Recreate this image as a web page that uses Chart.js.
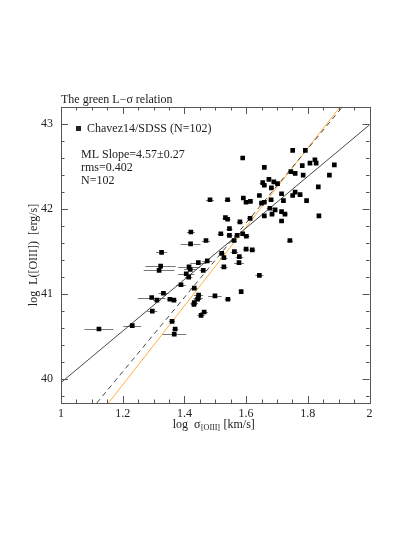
<!DOCTYPE html>
<html>
<head>
<meta charset="utf-8">
<script src="https://cdn.jsdelivr.net/npm/chart.js@4.4.0/dist/chart.umd.min.js"></script>
<style>
  body { margin: 0; background: #fff; }
</style>
</head>
<body>
<canvas id="sigmaChart" width="415" height="537"></canvas>
<script>
// log sigma [OIII] (km/s) of each galaxy
var logSigma = [
  1.589, 1.659, 1.674, 1.654, 1.659, 1.690, 1.702, 1.682, 1.745, 1.715,
  1.483, 1.540, 1.591, 1.600, 1.614, 1.643, 1.650, 1.659, 1.681, 1.677,
  1.694, 1.684, 1.659, 1.715, 1.726, 1.533, 1.540, 1.613, 1.751, 1.792,
  1.823, 1.827, 1.807, 1.886, 1.782, 1.759, 1.785, 1.870, 1.834, 1.759,
  1.751, 1.775, 1.721, 1.796, 1.836, 1.715, 1.742, 1.580, 1.546, 1.518,
  1.546, 1.571, 1.589, 1.601, 1.470, 1.561, 1.600, 1.620, 1.562, 1.578,
  1.577, 1.521, 1.528, 1.474, 1.461, 1.528, 1.643, 1.421, 1.420, 1.326,
  1.323, 1.318, 1.415, 1.419, 1.445, 1.406, 1.414, 1.389, 1.432, 1.332,
  1.294, 1.311, 1.353, 1.366, 1.446, 1.445, 1.443, 1.432, 1.431, 1.499,
  1.541, 1.584, 1.296, 1.464, 1.454, 1.360, 1.231, 1.123, 1.370, 1.367
];
// log L([OIII]) (erg/s)
var logL = [
  42.60, 42.49, 42.35, 42.31, 42.28, 42.32, 42.30, 42.25, 42.44, 42.18,
  42.11, 42.11, 42.13, 42.08, 42.09, 42.16, 42.07, 42.08, 42.11, 42.01,
  41.99, 41.94, 41.92, 41.97, 41.94, 41.90, 41.88, 41.89, 42.69, 42.69,
  42.58, 42.54, 42.54, 42.52, 42.51, 42.42, 42.40, 42.40, 42.26, 42.20,
  42.16, 42.17, 42.10, 42.10, 41.92, 41.86, 41.63, 41.85, 41.77, 41.71,
  41.69, 41.69, 41.71, 41.68, 41.63, 41.63, 41.53, 41.52, 41.50, 41.44,
  41.37, 41.48, 41.43, 41.39, 41.28, 41.32, 41.22, 41.73, 41.59, 41.49,
  41.33, 41.28, 41.32, 41.29, 41.37, 41.24, 41.20, 41.11, 41.07, 41.01,
  40.96, 40.93, 40.94, 40.93, 40.99, 40.96, 40.94, 40.90, 40.88, 40.98,
  40.94, 41.03, 40.80, 40.79, 40.75, 40.68, 40.63, 40.59, 40.59, 40.53
];
// error on log sigma
var sigmaErr = [
  0, 0.008, 0.008, 0.01, 0.008, 0.008, 0.008, 0.008, 0, 0.008,
  0.013, 0.01, 0.008, 0.008, 0.008, 0.008, 0.008, 0.008, 0.008, 0.01,
  0.008, 0.008, 0.008, 0.008, 0.008, 0.01, 0.01, 0.01, 0, 0,
  0, 0, 0, 0, 0, 0, 0, 0, 0, 0.008,
  0.008, 0.008, 0.008, 0, 0, 0.008, 0.01, 0.01, 0.01, 0.01,
  0.01, 0.01, 0.01, 0.01, 0.013, 0.01, 0.01, 0.01, 0.012, 0.012,
  0.016, 0.01, 0.012, 0.016, 0.012, 0.012, 0.013, 0.013, 0.032, 0.018,
  0.049, 0.05, 0.035, 0.02, 0.026, 0.026, 0.012, 0.016, 0.012, 0.016,
  0.045, 0.012, 0.01, 0.01, 0.015, 0.015, 0.012, 0.012, 0.01, 0.022,
  0.01, 0, 0.016, 0.012, 0.012, 0.01, 0.029, 0.047, 0.01, 0.039
];

// fit lines (end points)
var fitSolid = [{x: 1.0, y: 39.96}, {x: 2.0, y: 42.99}];
var fitDashed = [{x: 1.116, y: 39.72}, {x: 1.912, y: 43.2}];
var fitOrange = [{x: 1.154, y: 39.72}, {x: 1.904, y: 43.2}];

var xTicks = [1, 1.2, 1.4, 1.6, 1.8, 2];
var xMinor = [1.05, 1.1, 1.15, 1.25, 1.3, 1.35, 1.45, 1.5, 1.55, 1.65, 1.7, 1.75, 1.85, 1.9, 1.95];
var yTicks = [40, 41, 42, 43];
var yMinor = [39.8, 40.2, 40.4, 40.6, 40.8, 41.2, 41.4, 41.6, 41.8, 42.2, 42.4, 42.6, 42.8];

var FONT = "'Liberation Serif', 'DejaVu Serif', serif";
var INK = '#222';
var AXIS = '#555';

var points = logSigma.map(function (s, i) {
  return {x: s, y: logL[i]};
});

// frame, ticks, error bars and texts
var framePlugin = {
  id: 'frame',
  beforeDatasetsDraw: function (chart) {
    var ctx = chart.ctx, xs = chart.scales.x, ys = chart.scales.y, a = chart.chartArea;
    ctx.save();
    ctx.beginPath();
    ctx.rect(a.left, a.top, a.right - a.left, a.bottom - a.top);
    ctx.clip();
    ctx.strokeStyle = '#777';
    ctx.lineWidth = 1;
    for (var i = 0; i < logSigma.length; i++) {
      if (!sigmaErr[i]) continue;
      var py = Math.round(ys.getPixelForValue(logL[i])) + 0.5;
      ctx.beginPath();
      ctx.moveTo(xs.getPixelForValue(logSigma[i] - sigmaErr[i]), py);
      ctx.lineTo(xs.getPixelForValue(logSigma[i] + sigmaErr[i]), py);
      ctx.stroke();
    }
    ctx.restore();
  },
  afterDraw: function (chart) {
    var ctx = chart.ctx, xs = chart.scales.x, ys = chart.scales.y, a = chart.chartArea;
    ctx.save();
    ctx.strokeStyle = AXIS;
    ctx.lineWidth = 1;
    ctx.strokeRect(Math.round(a.left) + 0.5, Math.round(a.top) + 0.5,
      Math.round(a.right - a.left), Math.round(a.bottom - a.top));

    function xTick(v, len) {
      var px = Math.round(xs.getPixelForValue(v)) + 0.5;
      ctx.beginPath();
      ctx.moveTo(px, a.bottom); ctx.lineTo(px, a.bottom - len);
      ctx.moveTo(px, a.top); ctx.lineTo(px, a.top + len);
      ctx.stroke();
    }
    function yTick(v, len) {
      var py = Math.round(ys.getPixelForValue(v)) + 0.5;
      ctx.beginPath();
      ctx.moveTo(a.left, py); ctx.lineTo(a.left + len, py);
      ctx.moveTo(a.right, py); ctx.lineTo(a.right - len, py);
      ctx.stroke();
    }
    xTicks.forEach(function (v) { xTick(v, 7); });
    xMinor.forEach(function (v) { xTick(v, 3.5); });
    yTicks.forEach(function (v) { yTick(v, 7); });
    yMinor.forEach(function (v) { yTick(v, 3.5); });

    ctx.fillStyle = INK;
    ctx.textBaseline = 'middle';
    ctx.textAlign = 'left';
    ctx.font = '12px ' + FONT;
    ctx.fillText('The green L\u2212\u03c3 relation', a.left, 100);

    // legend
    ctx.fillRect(76, 126, 5, 5);
    ctx.fillText('Chavez14/SDSS (N=102)', 87, 129);
    ctx.fillText('ML Slope=4.57\u00b10.27', 81, 155);
    ctx.fillText('rms=0.402', 81, 168);
    ctx.fillText('N=102', 81, 181);

    // x axis title with subscript
    var t1 = 'log  \u03c3', sub = '[OIII]', t2 = ' [km/s]';
    ctx.font = '12px ' + FONT;
    var w1 = ctx.measureText(t1).width, w2 = ctx.measureText(t2).width;
    ctx.font = '8px ' + FONT;
    var ws = ctx.measureText(sub).width;
    var cx = (a.left + a.right) / 2 - 2;
    var x0 = cx - (w1 + ws + w2) / 2, ty = 425;
    ctx.font = '12px ' + FONT;
    ctx.fillText(t1, x0, ty);
    ctx.font = '8px ' + FONT;
    ctx.fillText(sub, x0 + w1 + 0.5, ty + 3);
    ctx.font = '12px ' + FONT;
    ctx.fillText(t2, x0 + w1 + ws + 1, ty);

    // y axis title
    ctx.save();
    ctx.translate(34, (a.top + a.bottom) / 2);
    ctx.rotate(-Math.PI / 2);
    ctx.textAlign = 'center';
    ctx.fillText('log  L([OIII])  [erg/s]', 0, 0);
    ctx.restore();

    ctx.restore();
  }
};

var ctx = document.getElementById('sigmaChart').getContext('2d');

var sigmaChart = new Chart(ctx, {
  type: 'scatter',
  data: {
    datasets: [{
      label: 'Chavez14/SDSS',
      data: points,
      pointStyle: 'rect',
      pointRadius: 3.3,
      backgroundColor: '#000',
      borderWidth: 0,
      order: 0
    }, {
      type: 'line',
      data: fitSolid,
      borderColor: '#333',
      borderWidth: 0.9,
      pointRadius: 0,
      order: 1
    }, {
      type: 'line',
      data: fitDashed,
      borderColor: '#333',
      borderWidth: 0.9,
      borderDash: [5, 4],
      pointRadius: 0,
      order: 2
    }, {
      type: 'line',
      data: fitOrange,
      borderColor: '#ffb040',
      borderWidth: 1,
      pointRadius: 0,
      order: 3
    }]
  },
  options: {
    responsive: false,
    animation: false,
    layout: { padding: { left: 0, right: 45.5, top: 107, bottom: 0 } },
    plugins: {
      legend: { display: false },
      tooltip: { enabled: false }
    },
    scales: {
      x: {
        type: 'linear',
        min: 1,
        max: 2,
        afterFit: function (s) { s.height = 134; },
        afterBuildTicks: function (s) { s.ticks = xTicks.map(function (v) { return {value: v}; }); },
        grid: { display: false, drawTicks: false },
        border: { display: false },
        ticks: {
          padding: 4, color: INK, font: { family: FONT, size: 12 }, maxRotation: 0, autoSkip: false,
          callback: function (v) { return String(v); }
        }
      },
      y: {
        type: 'linear',
        min: 39.72,
        max: 43.2,
        afterFit: function (s) { s.width = 61; },
        afterBuildTicks: function (s) { s.ticks = yTicks.map(function (v) { return {value: v}; }); },
        grid: { display: false, drawTicks: false },
        border: { display: false },
        ticks: {
          padding: 8, color: INK, font: { family: FONT, size: 12 },
          callback: function (v) { return String(v); }
        }
      }
    }
  },
  plugins: [framePlugin]
});
</script>
</body>
</html>
